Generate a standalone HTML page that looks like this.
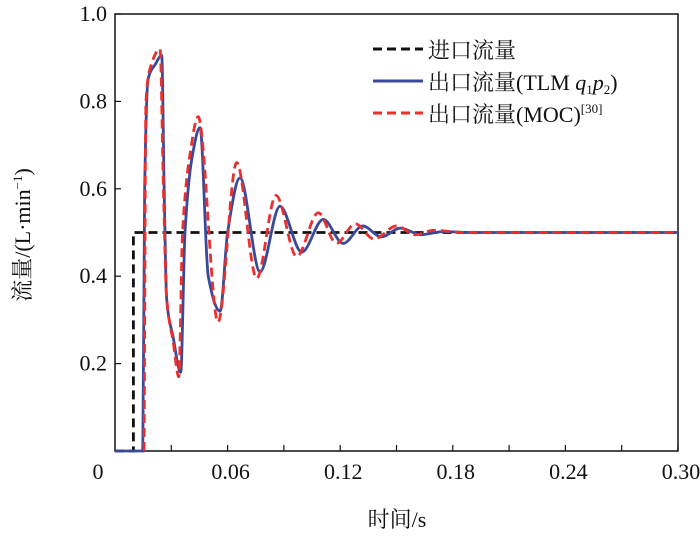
<!DOCTYPE html>
<html><head><meta charset="utf-8"><style>
body{margin:0;background:#fff}
svg{display:block;font-family:"Liberation Serif","Noto Serif CJK SC",serif}
</style></head><body>
<svg id="chart" width="700" height="537" viewBox="0 0 700 537">
<g id="axes"></g>
<g id="series"></g>
<g id="legend">
 <line x1="373" y1="49" x2="423" y2="49" stroke="#111" stroke-width="3" stroke-dasharray="9,5"/>
 <text x="428" y="58" font-size="22" fill="#111">进口流量</text>
 <line x1="373" y1="81" x2="423" y2="81" stroke="#3a4a9a" stroke-width="3"/>
 <text x="428" y="90" font-size="22" fill="#111">出口流量(TLM <tspan font-style="italic">q</tspan><tspan font-size="13" dy="4">1</tspan><tspan font-style="italic" dy="-4">p</tspan><tspan font-size="13" dy="4">2</tspan><tspan dy="-4">)</tspan></text>
 <line x1="373" y1="113" x2="423" y2="113" stroke="#e8312f" stroke-width="3" stroke-dasharray="9,5"/>
 <text x="428" y="122" font-size="22" fill="#111">出口流量(MOC)<tspan font-size="13" dy="-9">[30]</tspan></text>
</g>
<text x="397" y="527" font-size="22" text-anchor="middle" fill="#111">时间/s</text>
<text transform="translate(30,235) rotate(-90)" font-size="22" text-anchor="middle" fill="#111">流量/(L·min<tspan font-size="13" dy="-8">−1</tspan><tspan dy="8">)</tspan></text>
</svg>
<script>
const xTicks=[0.06,0.12,0.18,0.24,0.30];
const xTickLabels=["0.06","0.12","0.18","0.24","0.30"];
const yTicks=[0.2,0.4,0.6,0.8,1.0];
const yTickLabels=["0.2","0.4","0.6","0.8","1.0"];
const inletT=[0,0.0098,0.0098,0.30];
const inletV=[0,0,0.5,0.5];
const tlmT=[0,0.0148,0.0158,0.0176,0.0215,0.0249,0.0262,0.0275,0.031,0.035,0.0373,0.041,0.0453,0.0497,0.056,0.060,0.0666,0.0773,0.0879,0.0995,0.111,0.1216,0.132,0.142,0.152,0.163,0.175,0.19,0.30];
const tlmV=[0,0,0.6,0.85,0.885,0.905,0.6,0.35,0.26,0.18,0.5,0.67,0.74,0.4,0.32,0.5,0.625,0.41,0.56,0.455,0.53,0.475,0.515,0.49,0.51,0.495,0.502,0.5,0.5];
const mocT=[0.0155,0.0165,0.019,0.024,0.0258,0.0275,0.031,0.034,0.036,0.040,0.0443,0.0549,0.0648,0.0755,0.0858,0.0968,0.1083,0.118,0.128,0.138,0.150,0.160,0.170,0.185,0.30];
const mocV=[0,0.8,0.88,0.92,0.6,0.35,0.25,0.17,0.5,0.68,0.765,0.295,0.66,0.395,0.585,0.445,0.545,0.475,0.52,0.485,0.515,0.495,0.505,0.5,0.5];
const X0=115,X1=678,Y0=451,Y1=14,TMIN=0,TMAX=0.30;
const sx=t=>X0+(t-TMIN)/(TMAX-TMIN)*(X1-X0);
const sy=v=>Y0-v*(Y0-Y1);
const NS="http://www.w3.org/2000/svg";
function mk(tag,attrs,parent){const e=document.createElementNS(NS,tag);for(const k in attrs)e.setAttribute(k,attrs[k]);parent.appendChild(e);return e;}
const axes=document.getElementById('axes');
const frame=mk('rect',{x:X0,y:Y1,width:X1-X0,height:Y0-Y1,fill:'none',stroke:'#111','stroke-width':1.5},axes);


for(let i=1;i<=10;i++){const t=0.03*i;const tk=mk('line',{x1:sx(t),y1:Y0,x2:sx(t),y2:Y0-6,stroke:'#111','stroke-width':1.2},axes);

}
xTicks.forEach((t,i)=>{const tx=mk('text',{x:sx(t)+3,y:Y0+28,'font-size':22,'text-anchor':'middle',fill:'#111'},axes);tx.textContent=xTickLabels[i];

});
const z=mk('text',{x:98,y:Y0+28,'font-size':22,'text-anchor':'middle',fill:'#111'},axes);z.textContent='0';


yTicks.forEach((v,i)=>{const tk=mk('line',{x1:X0,y1:sy(v),x2:X0+6,y2:sy(v),stroke:'#111','stroke-width':1.2},axes);


const tx=mk('text',{x:X0-8,y:sy(v)+7,'font-size':22,'text-anchor':'end',fill:'#111'},axes);tx.textContent=yTickLabels[i];

});
function monotone(T,V){
 const x=T.map(sx),y=V.map(sy),n=x.length;
 const d=[],m=new Array(n).fill(0);
 for(let i=0;i<n-1;i++)d.push((y[i+1]-y[i])/(x[i+1]-x[i]));
 m[0]=d[0];m[n-1]=d[n-2];
 for(let i=1;i<n-1;i++){ if(d[i-1]*d[i]<=0)m[i]=0; else {const w1=2*(x[i+1]-x[i])+(x[i]-x[i-1]),w2=(x[i+1]-x[i])+2*(x[i]-x[i-1]);m[i]=(w1+w2)/(w1/d[i-1]+w2/d[i]);} }
 let p='M'+x[0]+','+y[0];
 for(let i=0;i<n-1;i++){const h=(x[i+1]-x[i])/3;p+=' C'+(x[i]+h)+','+(y[i]+m[i]*h)+' '+(x[i+1]-h)+','+(y[i+1]-m[i+1]*h)+' '+x[i+1]+','+y[i+1];}
 return p;}
const ser=document.getElementById('series');
const inl=mk('polyline',{points:inletT.map((t,i)=>sx(t)+','+sy(inletV[i])).join(' '),fill:'none',stroke:'#111','stroke-width':2.8,'stroke-dasharray':'9,5'},ser);


const tl=mk('path',{d:monotone(tlmT,tlmV),fill:'none',stroke:'#3a4a9a','stroke-width':2.8},ser);


const mo=mk('path',{d:monotone(mocT,mocV),fill:'none',stroke:'#e8312f','stroke-width':2.8,'stroke-dasharray':'9,5'},ser);


</script>
</body></html>
